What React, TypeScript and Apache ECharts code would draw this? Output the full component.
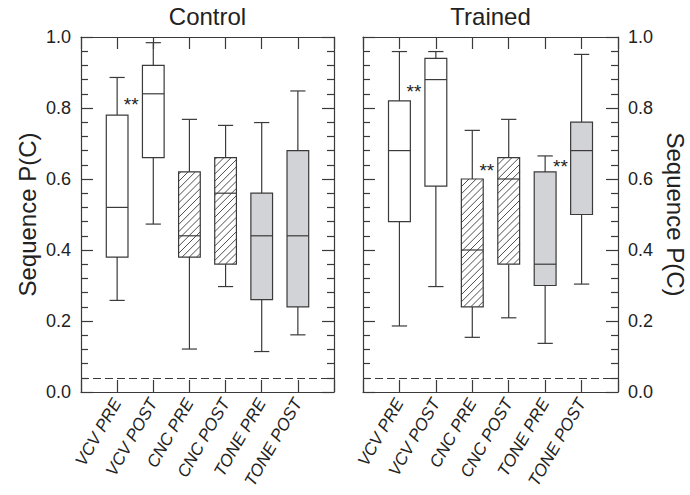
import React, { useEffect, useRef } from "react";
import * as echarts from "echarts";

// ---- data ----
const categories = ["VCV PRE", "VCV POST", "CNC PRE", "CNC POST", "TONE PRE", "TONE POST"];
// [min, q1, median, q3, max]
const controlStats = [
  [0.258, 0.38, 0.52, 0.78, 0.886],
  [0.473, 0.66, 0.84, 0.92, 0.984],
  [0.121, 0.38, 0.44, 0.62, 0.768],
  [0.297, 0.36, 0.56, 0.66, 0.751],
  [0.114, 0.26, 0.44, 0.56, 0.759],
  [0.161, 0.24, 0.44, 0.68, 0.848],
];
const trainedStats = [
  [0.186, 0.48, 0.68, 0.82, 0.959],
  [0.297, 0.58, 0.88, 0.94, 0.959],
  [0.154, 0.24, 0.40, 0.60, 0.737],
  [0.209, 0.36, 0.60, 0.66, 0.768],
  [0.137, 0.30, 0.36, 0.62, 0.665],
  [0.304, 0.50, 0.68, 0.76, 0.951],
];
// significance markers: [x position (category units), y value]
const controlSig = [[1.39, 0.81]];
const trainedSig = [
  [1.4, 0.846],
  [3.4, 0.623],
  [5.42, 0.636],
];
const chanceLevel = 0.04;
const panelTitles = ["Control", "Trained"];
const yName = "Sequence P(C)";

// ---- styles ----
const FONT = "Liberation Sans, Arial, Helvetica, sans-serif";
const LINE = "#3a3a3a";
const TEXT = "#222";
const GRAY = "#d2d3d7";
const fillKinds = ["white", "white", "hatch", "hatch", "gray", "gray"];

function boxRender(params: any, api: any) {
  const x = api.value(0);
  const vMin = api.value(1), vQ1 = api.value(2), vMed = api.value(3), vQ3 = api.value(4), vMax = api.value(5);
  const [cx, yMin] = api.coord([x, vMin]);
  const yQ1 = api.coord([x, vQ1])[1];
  const yMed = api.coord([x, vMed])[1];
  const yQ3 = api.coord([x, vQ3])[1];
  const yMax = api.coord([x, vMax])[1];
  const step = api.size([1, 0])[0];
  const bw = step * 0.6;
  const cw = step * 0.42;
  const x0 = cx - bw / 2, x1 = cx + bw / 2;
  const kind = fillKinds[params.dataIndex];
  const ls = { stroke: LINE, lineWidth: 1.2 };
  const children: any[] = [
    { type: "line", shape: { x1: cx, y1: yQ3, x2: cx, y2: yMax }, style: ls },
    { type: "line", shape: { x1: cx - cw / 2, y1: yMax, x2: cx + cw / 2, y2: yMax }, style: ls },
    { type: "line", shape: { x1: cx, y1: yQ1, x2: cx, y2: yMin }, style: ls },
    { type: "line", shape: { x1: cx - cw / 2, y1: yMin, x2: cx + cw / 2, y2: yMin }, style: ls },
    {
      type: "rect",
      shape: { x: x0, y: yQ3, width: bw, height: yQ1 - yQ3 },
      style: { fill: kind === "gray" ? GRAY : "#fff", stroke: "none" },
    },
  ];
  if (kind === "hatch") {
    const sp = 7.2;
    const top = yQ3, bot = yQ1;
    const cStart = Math.ceil((x0 + top) / sp) * sp;
    for (let c = cStart; c <= x1 + bot; c += sp) {
      const xa = Math.max(x0, c - bot);
      const xb = Math.min(x1, c - top);
      if (xb - xa > 0.3) {
        children.push({
          type: "line",
          shape: { x1: xa, y1: c - xa, x2: xb, y2: c - xb },
          style: { stroke: LINE, lineWidth: 0.9 },
        });
      }
    }
  }
  children.push({
    type: "rect",
    shape: { x: x0, y: yQ3, width: bw, height: yQ1 - yQ3 },
    style: { fill: "none", ...ls },
  });
  children.push({ type: "line", shape: { x1: x0, y1: yMed, x2: x1, y2: yMed }, style: ls });
  return { type: "group", children };
}

function sigRender(params: any, api: any) {
  const [px, py] = api.coord([api.value(0), api.value(1)]);
  return {
    type: "text",
    x: px,
    y: py,
    style: {
      text: "**",
      align: "center",
      verticalAlign: "middle",
      fontSize: 19,
      fontFamily: FONT,
      fill: TEXT,
    },
  };
}

function xAxes(gridIndex: number) {
  const common = {
    type: "value",
    gridIndex,
    min: 0,
    max: 7,
    interval: 1,
    axisLine: { show: true, onZero: false, lineStyle: { color: LINE, width: 1.2 } },
    axisTick: { show: true, inside: true, length: 12, lineStyle: { color: LINE, width: 1.2 } },
    splitLine: { show: false },
  };
  return [
    {
      ...common,
      position: "bottom",
      axisLabel: {
        show: true,
        rotate: 60,
        margin: 8,
        fontSize: 17,
        fontStyle: "italic",
        fontFamily: FONT,
        color: TEXT,
        showMinLabel: true,
        showMaxLabel: true,
        formatter: (v: number) => (v >= 1 && v <= categories.length ? categories[v - 1] : ""),
      },
    },
    { ...common, position: "top", axisLabel: { show: false } },
  ];
}

function yAxes(gridIndex: number, labelSide: "left" | "right") {
  const common = {
    type: "value",
    gridIndex,
    min: 0,
    max: 1,
    interval: 0.2,
    axisLine: { show: true, onZero: false, lineStyle: { color: LINE, width: 1.2 } },
    axisTick: { show: true, inside: true, length: 12, lineStyle: { color: LINE, width: 1.2 } },
    minorTick: { show: true, splitNumber: 5, length: 7, lineStyle: { color: LINE, width: 1.2 } },
    splitLine: { show: false },
    minorSplitLine: { show: false },
  };
  const label = {
    show: true,
    margin: 10,
    fontSize: 18,
    fontFamily: FONT,
    color: TEXT,
    formatter: (v: number) => v.toFixed(1),
  };
  const nameStyle = { fontSize: 24, fontFamily: FONT, color: TEXT };
  const left: any = { ...common, position: "left", axisLabel: labelSide === "left" ? label : { show: false } };
  const right: any = { ...common, position: "right", axisLabel: labelSide === "right" ? label : { show: false } };
  if (labelSide === "left") {
    Object.assign(left, { name: yName, nameLocation: "middle", nameGap: 42, nameTextStyle: nameStyle });
  } else {
    Object.assign(right, { name: yName, nameLocation: "middle", nameGap: 45, nameRotate: -90, nameTextStyle: nameStyle });
  }
  return [left, right];
}

export default function App() {
  const ref = useRef<HTMLDivElement>(null);
  useEffect(() => {
    document.body.style.margin = "0";
    if (!ref.current) return;
    const chart = echarts.init(ref.current, undefined, { renderer: "svg" });
    const grids = [
      { left: 81, top: 37, width: 253, height: 355 },
      { left: 363, top: 37, width: 255, height: 355 },
    ];
    const markLine = {
      silent: true,
      symbol: "none",
      label: { show: false },
      lineStyle: { type: [8, 4], color: LINE, width: 1.2 },
      data: [{ yAxis: chanceLevel }],
    };
    chart.setOption({
      animation: false,
      backgroundColor: "#fff",
      textStyle: { fontFamily: FONT },
      grid: grids.map((g) => ({ ...g, show: false })),
      xAxis: [...xAxes(0), ...xAxes(1)],
      yAxis: [...yAxes(0, "left"), ...yAxes(1, "right")],
      graphic: panelTitles.map((t, i) => ({
        type: "text",
        x: grids[i].left + grids[i].width / 2,
        y: 16,
        style: { text: t, align: "center", verticalAlign: "middle", fontSize: 24, fontFamily: FONT, fill: TEXT },
      })),
      series: [
        {
          type: "custom",
          xAxisIndex: 0,
          yAxisIndex: 0,
          renderItem: boxRender,
          data: controlStats.map((s, i) => [i + 1, ...s]),
          markLine,
          z: 2,
        },
        {
          type: "custom",
          xAxisIndex: 2,
          yAxisIndex: 2,
          renderItem: boxRender,
          data: trainedStats.map((s, i) => [i + 1, ...s]),
          markLine,
          z: 2,
        },
        {
          type: "custom",
          xAxisIndex: 0,
          yAxisIndex: 0,
          renderItem: sigRender,
          data: controlSig,
          z: 3,
        },
        {
          type: "custom",
          xAxisIndex: 2,
          yAxisIndex: 2,
          renderItem: sigRender,
          data: trainedSig,
          z: 3,
        },
      ],
    });
    return () => chart.dispose();
  }, []);
  return <div ref={ref} style={{ width: 690, height: 495 }} />;
}
